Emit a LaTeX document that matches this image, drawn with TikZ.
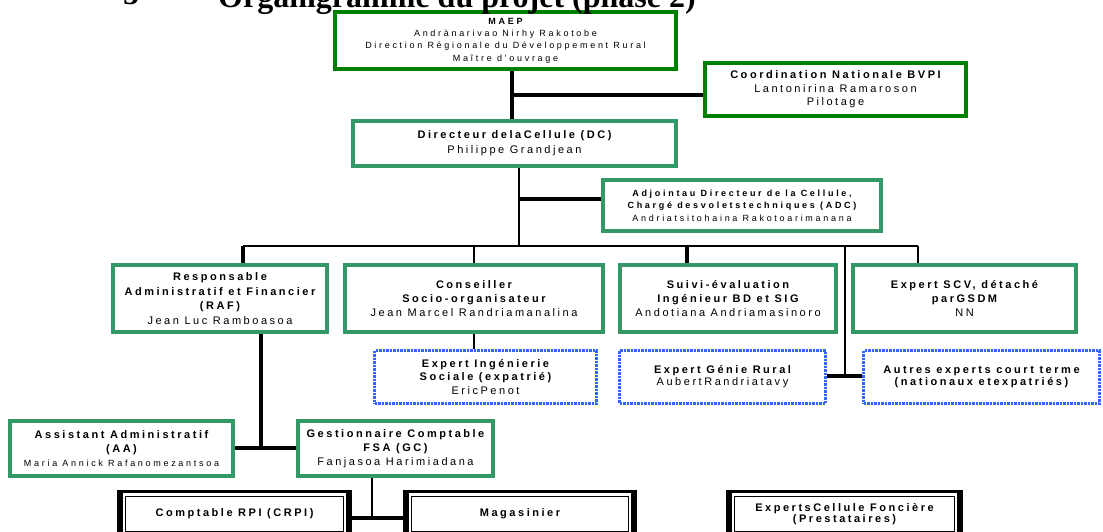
\documentclass[tikz,border=0pt]{standalone}
\usepackage{fontspec}
\setmainfont{Liberation Sans}
\newfontfamily\lsA[LetterSpace=23]{Liberation Sans}
\newfontfamily\lsB[LetterSpace=30]{Liberation Sans}
\newfontfamily\ttlfont{Liberation Serif}
\newcommand\tbA[1]{{\lsA\bfseries\fontsize{11}{13}\selectfont #1}}
\newcommand\trA[1]{{\lsA\fontsize{11}{13}\selectfont #1}}
\newcommand\tbB[1]{{\lsB\bfseries\fontsize{9}{11}\selectfont #1}}
\newcommand\trB[1]{{\lsB\fontsize{9}{11}\selectfont #1}}
\definecolor{dkgreen}{RGB}{0,128,0}
\definecolor{sgreen}{RGB}{51,153,102}
\definecolor{dblue}{RGB}{51,102,255}
\tikzset{
  gbox/.style={draw=dkgreen, line width=4pt, fill=white, inner sep=0pt, align=center},
  sbox/.style={draw=sgreen, line width=4pt, fill=white, inner sep=0pt, align=center},
  dbox/.style={draw=dblue, line width=3pt, dash pattern=on 2.5pt off 1pt, fill=white, inner sep=0pt, align=center},
  fbox/.style={inner sep=0pt, align=center, minimum height=46pt},
  thickln/.style={line width=4pt},
  thinln/.style={line width=1.2pt},
}
\begin{document}
\begin{tikzpicture}[x=1pt,y=-1pt]
\useasboundingbox (0,0) rectangle (1103,532);
\clip (0,0) rectangle (1103,532);
% boxes
\node[gbox, minimum width=341pt, minimum height=57pt, font=\fontsize{9}{12.3}\selectfont] (maep) at (505.5,40.5)
  {\tbB{MAEP}\\\trB{Andrànarivao Nirhy Rakotobe}\\\trB{Direction Régionale du Développement Rural}\\\trB{Maître d’ouvrage}};
\node[gbox, minimum width=261pt, minimum height=53pt, font=\fontsize{11}{13.5}\selectfont] (cn) at (835.5,89.5)
  {\tbA{Coordination Nationale BVPI}\\\trA{Lantonirina Ramaroson}\\\trA{Pilotage}};
\node[sbox, minimum width=323pt, minimum height=45pt, font=\fontsize{11}{15}\selectfont] (dc) at (514.5,143.5)
  {\tbA{Directeur delaCellule (DC)}\\\trA{Philippe Grandjean}};
\node[sbox, minimum width=278pt, minimum height=51pt, font=\fontsize{9}{12.5}\selectfont] (adc) at (742,205.5)
  {\tbB{Adjointau Directeur de la Cellule,}\\\tbB{Chargé desvoletstechniques (ADC)}\\\trB{Andriatsitohaina Rakotoarimanana}};
\node[sbox, minimum width=214pt, minimum height=67pt, font=\fontsize{11}{14.7}\selectfont] (raf) at (220,298.5)
  {\tbA{Responsable}\\\tbA{Administratif et Financier}\\\tbA{(RAF)}\\\trA{Jean Luc Ramboasoa}};
\node[sbox, minimum width=258pt, minimum height=67pt, font=\fontsize{11}{14}\selectfont] (cs) at (474,298.5)
  {\tbA{Conseiller}\\\tbA{Socio-organisateur}\\\trA{Jean Marcel Randriamanalina}};
\node[sbox, minimum width=216pt, minimum height=67pt, font=\fontsize{11}{14}\selectfont] (se) at (728,298.5)
  {\tbA{Suivi-évaluation}\\\tbA{Ingénieur BD et SIG}\\\trA{Andotiana Andriamasinoro}};
\node[sbox, minimum width=223pt, minimum height=67pt, font=\fontsize{11}{14}\selectfont] (scv) at (964.5,298.5)
  {\tbA{Expert SCV, détaché}\\\tbA{parGSDM}\\\trA{NN}};
\node[dbox, minimum width=222pt, minimum height=53pt, font=\fontsize{11}{13.5}\selectfont] (eis) at (485.5,377)
  {\tbA{Expert Ingénierie}\\\tbA{Sociale (expatrié)}\\\trA{EricPenot}};
\node[dbox, minimum width=206pt, minimum height=53pt, font=\fontsize{11}{12}\selectfont] (egr) at (722.5,377)
  {\tbA{Expert Génie Rural}\\\trA{AubertRandriatavy}};
\node[dbox, minimum width=236pt, minimum height=53pt, font=\fontsize{11}{12}\selectfont] (aut) at (981.5,377)
  {\tbA{Autres experts court terme}\\\tbA{(nationaux etexpatriés)}};
\node[sbox, minimum width=223pt, minimum height=55pt, font=\fontsize{11}{14}\selectfont] (aa) at (121.5,448.5)
  {\tbA{Assistant Administratif}\\\tbA{(AA)}\\\trB{Maria Annick Rafanomezantsoa}};
\node[sbox, minimum width=195pt, minimum height=55pt, font=\fontsize{11}{14}\selectfont] (gc) at (395.5,448.5)
  {\tbA{Gestionnaire Comptable}\\\tbA{FSA (GC)}\\\trA{Fanjasoa Harimiadana}};
\node[fbox, minimum width=233pt, font=\fontsize{11}{11}\selectfont] (crpi) at (234.5,514) {\tbA{Comptable RPI (CRPI)}};
\node[fbox, minimum width=232pt, font=\fontsize{11}{11}\selectfont] (mag) at (520,514) {\tbA{Magasinier}};
\node[fbox, minimum width=235pt, font=\fontsize{11}{11}\selectfont] (ecf) at (844.5,514) {\tbA{ExpertsCellule Foncière}\\\tbA{(Prestataires)}};
\foreach \n in {crpi,mag,ecf}{
  \draw[line width=1pt] (\n.north west) rectangle (\n.south east);
  \fill (\n.north west) rectangle ([xshift=5pt]\n.south west);
  \fill ([xshift=-5pt]\n.north east) rectangle (\n.south east);
  \fill (\n.north west) rectangle ([yshift=-2.5pt]\n.north east);
  \draw[line width=0.8pt] ([shift={(8pt,-6pt)}]\n.north west) rectangle ([shift={(-8pt,6pt)}]\n.south east);
}
% connectors
\coordinate (j1) at (512,95);
\draw[thickln] (maep.south -| j1) -- (dc.north -| j1);
\draw[thickln] (j1) -- (j1 -| cn.west);
\coordinate (j2) at (519,199);
\coordinate (bus) at (519,246);
\draw[thinln] (dc.south -| j2) -- (bus);
\draw[thickln] (j2) -- (j2 -| adc.west);
\coordinate (busL) at (243,246);
\coordinate (busR) at (918,246);
\draw[thinln] (busL) -- (busR);
\draw[thickln] (busL) -- (busL |- raf.north);
\draw[thinln] (bus -| cs.north) -- (cs.north);
\coordinate (vse) at (687,246);
\draw[thickln] (vse) -- (vse |- se.north);
\draw[thinln] (busR) -- (busR |- scv.north);
\coordinate (j3) at (845,376);
\draw[thinln] (j3 |- busL) -- (j3);
\draw[thickln] (egr.east |- j3) -- (aut.west |- j3);
\draw[thinln] (cs.south) -- (cs.south |- eis.north);
\coordinate (j4) at (261,448);
\draw[thickln] (raf.south -| j4) -- (j4);
\draw[thickln] (aa.east |- j4) -- (gc.west |- j4);
\coordinate (j5) at (372,518);
\draw[thinln] (gc.south -| j5) -- (j5);
\draw[thickln] (crpi.east |- j5) -- (mag.west |- j5);
% title
\node[anchor=base west, inner sep=0pt, font=\ttlfont\bfseries\fontsize{32}{32}\selectfont] (num) at (123,5) {5};
\node[anchor=base west, inner sep=0pt, font=\ttlfont\bfseries\fontsize{32}{32}\selectfont] (ttl) at (218,8) {Organigramme du projet (phase 2)};
\end{tikzpicture}
\end{document}
